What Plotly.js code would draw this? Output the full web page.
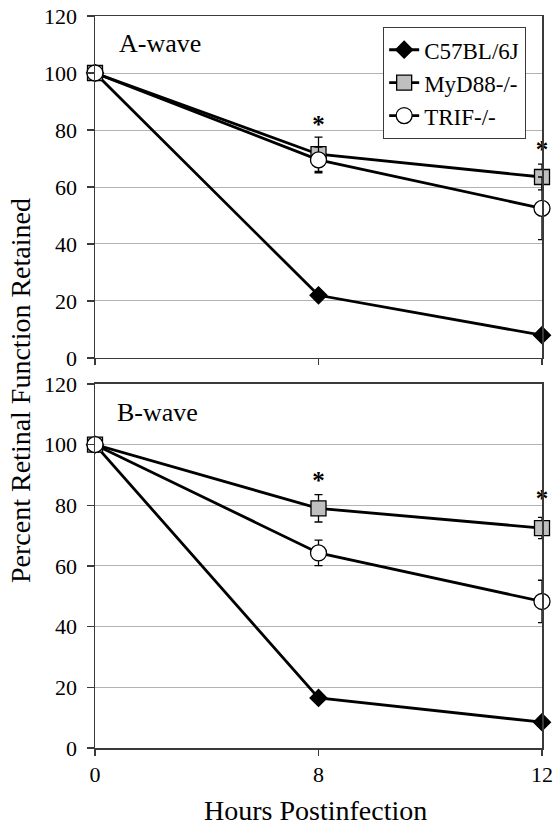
<!DOCTYPE html>
<html>
<head>
<meta charset="utf-8">
<script src="https://cdn.plot.ly/plotly-3.0.1.min.js"></script>
<style>html,body{margin:0;padding:0;background:#fff;}#chart{width:554px;height:825px;}</style>
</head>
<body>
<div id="chart"></div>
<script>
// ---- data ----
const hours = ['0', '8', '12'];
const seriesNames = ['C57BL/6J', 'MyD88-/-', 'TRIF-/-'];

// A-wave (top panel)
const aC57 = [100, 22, 8];
const aMyD88 = [100, 71.5, 63.5];
const aMyD88Err = [0, 6, 4.5];
const aTRIF = [100, 69.5, 52.5];
const aTRIFErr = [0, 4.5, 11];

// B-wave (bottom panel)
const bC57 = [100, 16.5, 8.5];
const bMyD88 = [100, 79, 72.5];
const bMyD88Err = [0, 4.5, 3.5];
const bTRIF = [100, 64.3, 48.3];
const bTRIFErr = [0, 4.2, 7];

// significance markers
const starHours = ['8', '12'];
const aStarY = [81, 72.5];
const bStarY = [87.5, 81.5];

const yTicks = [0, 20, 40, 60, 80, 100, 120];
// ---- end data ----

const FONT = 'Liberation Serif, Times New Roman, serif';
const lineCol = '#000000';

function series(x, y, err, name, sym, fill, size, xa, ya, showleg) {
  const t = {
    x: x, y: y, name: name, type: 'scatter', mode: 'lines+markers',
    xaxis: xa, yaxis: ya, showlegend: showleg, cliponaxis: false,
    line: {color: lineCol, width: 2.8},
    marker: {symbol: sym, size: size, color: fill, line: {color: '#000', width: 1.3}}
  };
  if (err) {
    t.error_y = {type: 'data', array: err, visible: true, color: '#000', thickness: 1.3, width: 4};
  }
  return t;
}

const traces = [
  series(hours, aC57, null, seriesNames[0], 'diamond', '#000', 13, 'x', 'y', true),
  series(hours, aMyD88, aMyD88Err, seriesNames[1], 'square', '#bfbfbf', 15, 'x', 'y', true),
  series(hours, aTRIF, aTRIFErr, seriesNames[2], 'circle', '#ffffff', 16, 'x', 'y', true),
  series(hours, bC57, null, seriesNames[0], 'diamond', '#000', 13, 'x2', 'y2', false),
  series(hours, bMyD88, bMyD88Err, seriesNames[1], 'square', '#bfbfbf', 15, 'x2', 'y2', false),
  series(hours, bTRIF, bTRIFErr, seriesNames[2], 'circle', '#ffffff', 16, 'x2', 'y2', false),
  {x: starHours, y: aStarY, mode: 'text', text: starHours.map(() => '<b>*</b>'), textposition: 'middle center',
   textfont: {family: FONT, size: 25, color: '#000'}, xaxis: 'x', yaxis: 'y', showlegend: false, cliponaxis: false, hoverinfo: 'skip'},
  {x: starHours, y: bStarY, mode: 'text', text: starHours.map(() => '<b>*</b>'), textposition: 'middle center',
   textfont: {family: FONT, size: 25, color: '#000'}, xaxis: 'x2', yaxis: 'y2', showlegend: false, cliponaxis: false, hoverinfo: 'skip'}
];

const axisLine = '#3a3a3a';
function xax(anchor, showLabels) {
  return {
    type: 'category', categoryorder: 'array', categoryarray: hours, range: [0, 2],
    anchor: anchor, showline: true, linecolor: axisLine, linewidth: 1.5, mirror: true,
    ticks: 'outside', ticklen: 6, tickwidth: 1.3, tickcolor: axisLine,
    showgrid: false, zeroline: false, showticklabels: showLabels,
    tickfont: {family: FONT, size: 22, color: '#000'}
  };
}
function yax(anchor, domain) {
  return {
    domain: domain, anchor: anchor, range: [0, 120], tickvals: yTicks,
    showline: true, linecolor: axisLine, linewidth: 1.5, mirror: true,
    ticks: 'outside', ticklen: 7, tickwidth: 1.3, tickcolor: axisLine, ticklabelstandoff: 5,
    showgrid: true, gridcolor: '#b3b3b3', gridwidth: 1, zeroline: false,
    tickfont: {family: FONT, size: 22, color: '#000'}
  };
}

const layout = {
  width: 554, height: 825,
  margin: {l: 95, r: 12, t: 16, b: 77},
  paper_bgcolor: '#fff', plot_bgcolor: '#fff',
  font: {family: FONT, color: '#000'},
  xaxis: xax('y', false),
  yaxis: yax('x', [0.5328, 1]),
  xaxis2: xax('y2', true),
  yaxis2: yax('x2', [0, 0.4973]),
  showlegend: true,
  legend: {
    x: 0.644, y: 0.985, xanchor: 'left', yanchor: 'top',
    bgcolor: '#fff', bordercolor: '#3a3a3a', borderwidth: 1.3,
    font: {family: FONT, size: 23, color: '#000'},
    itemwidth: 30, tracegroupgap: 0
  },
  annotations: [
    {text: 'A-wave', xref: 'paper', yref: 'paper', x: 0.049, y: 0.963, xanchor: 'left', yanchor: 'middle',
     showarrow: false, font: {family: FONT, size: 26, color: '#000'}},
    {text: 'B-wave', xref: 'paper', yref: 'paper', x: 0.045, y: 0.459, xanchor: 'left', yanchor: 'middle',
     showarrow: false, font: {family: FONT, size: 26, color: '#000'}},
    {text: 'Percent Retinal Function Retained', xref: 'paper', yref: 'paper', x: -0.168, y: 0.489,
     xanchor: 'center', yanchor: 'middle', textangle: -90, showarrow: false,
     font: {family: FONT, size: 28, color: '#000'}},
    {text: 'Hours Postinfection', xref: 'paper', yref: 'paper', x: 0.494, y: -0.0847,
     xanchor: 'center', yanchor: 'middle', showarrow: false,
     font: {family: FONT, size: 28, color: '#000'}}
  ]
};

Plotly.newPlot('chart', traces, layout, {displayModeBar: false, staticPlot: true});
</script>
</body>
</html>
